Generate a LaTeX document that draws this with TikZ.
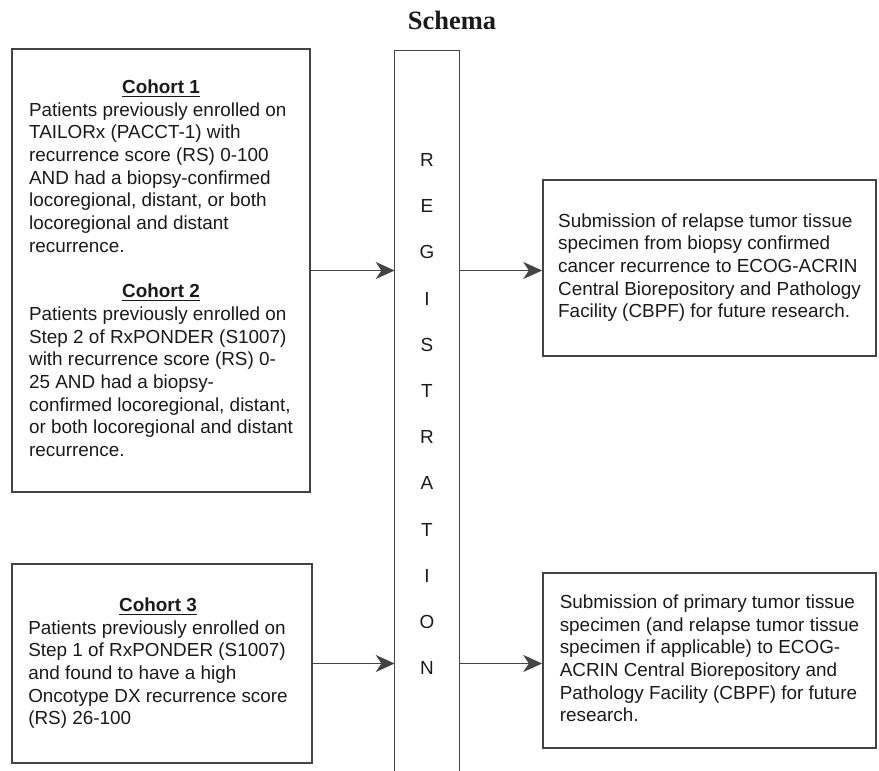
\documentclass[tikz,border=0pt]{standalone}
\usepackage{fontspec}
\setmainfont{Liberation Sans}
\newfontfamily\titlefont{Liberation Serif}
\usetikzlibrary{arrows.meta}
\def\pxu{0.529pt}
\definecolor{linegray}{HTML}{444444}
\definecolor{txt}{HTML}{1A1A1A}
\newcommand\cohead[1]{\multicolumn{1}{@{}c@{}}{\textbf{\underline{#1}}}}
\begin{document}
\begin{tikzpicture}[x=0.529pt,y=-0.529pt,
  boxnode/.style={draw=linegray, line width=0.9pt, inner sep=0pt, text=txt,
    font=\fontsize{10}{12}\selectfont, align=left},
  letternode/.style={inner sep=0pt, text=txt, font=\fontsize{10}{12}\selectfont},
  arr/.style={draw=linegray, line width=0.9pt,
    -{Stealth[length=10pt,width=9pt,inset=3pt]}}]
\useasboundingbox (0,0) rectangle (879,771);

\node[font=\titlefont\bfseries\fontsize{14}{16}\selectfont, text=txt, inner sep=0pt] (title) at (452,20) {Schema};

% Cohort 1 and 2
\node[boxnode, minimum width={298*\pxu}, minimum height={443*\pxu}] (c12) at (161,270.5)
{\begin{tabular}{@{}l@{}}
\cohead{Cohort 1}\\
Patients previously enrolled on\\
TAILORx (PACCT-1) with\\
recurrence score (RS) 0-100\\
AND had a biopsy-confirmed\\
locoregional, distant, or both\\
locoregional and distant\\
recurrence.\\
\\
\cohead{Cohort 2}\\
Patients previously enrolled on\\
Step 2 of RxPONDER (S1007)\\
with recurrence score (RS) 0-\\
25 AND had a biopsy-\\
confirmed locoregional, distant,\\
or both locoregional and distant\\
recurrence.
\end{tabular}};

% Cohort 3
\node[boxnode, minimum width={300*\pxu}, minimum height={199*\pxu}] (c3) at (162,663.5)
{\begin{tabular}{@{}l@{\hspace{4.2pt}}}
\multicolumn{1}{@{}c@{\hspace{4.2pt}}}{\textbf{\underline{Cohort 3}}}\\
Patients previously enrolled on\\
Step 1 of RxPONDER (S1007)\\
and found to have a high\\
Oncotype DX recurrence score\\
(RS) 26-100
\end{tabular}};

% Registration
\node[inner sep=0pt, minimum width={64*\pxu}, minimum height={720*\pxu}] (reg) at (427,411) {};
\draw[linegray, line width=0.9pt] (reg.south west) -- (reg.north west) -- (reg.north east) -- (reg.south east);
\foreach \L [count=\k from 0] in {R,E,G,I,S,T,R,A,T,I,O,N}{
  \node[letternode] (L\k) at (427,{160+46.2*\k}) {\L};
}

% Outcomes
\node[boxnode, minimum width={333*\pxu}, minimum height={176*\pxu}] (out1) at (709.5,268)
{\begin{tabular}{@{}l@{}}
Submission of relapse tumor tissue\\
specimen from biopsy confirmed\\
cancer recurrence to ECOG-ACRIN\\
Central Biorepository and Pathology\\
Facility (CBPF) for future research.
\end{tabular}};

\node[boxnode, minimum width={333*\pxu}, minimum height={175*\pxu}] (out2) at (709.5,660.5)
{\begin{tabular}{@{}l@{}}
Submission of primary tumor tissue\\
specimen (and relapse tumor tissue\\
specimen if applicable) to ECOG-\\
ACRIN Central Biorepository and\\
Pathology Facility (CBPF) for future\\
research.
\end{tabular}};

% Arrows
\draw[arr] (c12.east) -- (c12.east -| reg.west);
\draw[arr] (reg.east |- c12.east) -- (out1.west |- c12.east);
\draw[arr] (c3.east) -- (c3.east -| reg.west);
\draw[arr] (reg.east |- c3.east) -- (out2.west |- c3.east);
\end{tikzpicture}
\end{document}
